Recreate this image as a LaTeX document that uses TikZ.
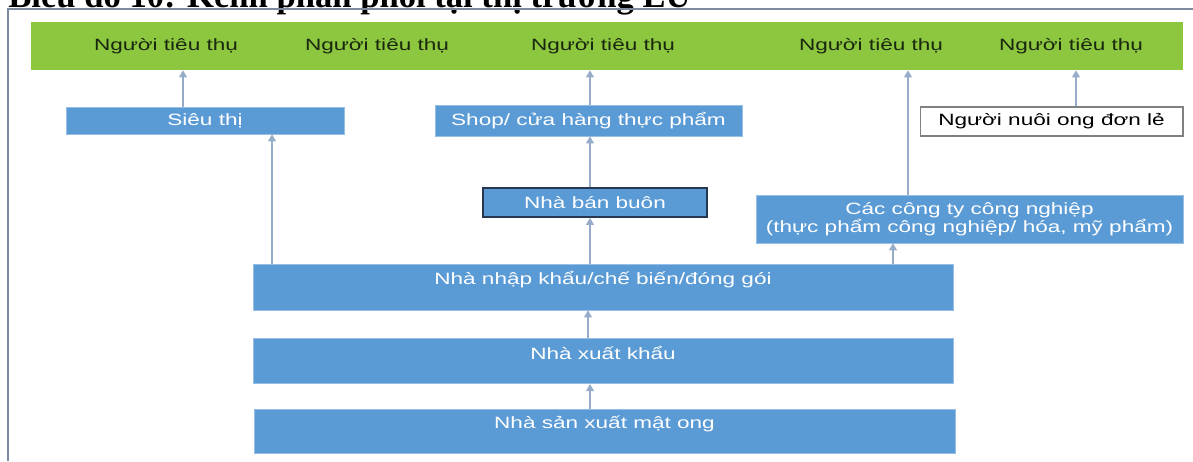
\documentclass[tikz,border=0pt]{standalone}
\usepackage{fontspec}
\setmainfont{Liberation Sans}[FakeStretch=1.38]
\newfontfamily\titlefont{Liberation Serif}
\usepackage{xcolor}
\usetikzlibrary{arrows.meta,positioning}

\definecolor{greenbar}{RGB}{141,198,63}
\definecolor{boxblue}{RGB}{91,155,213}
\definecolor{boxedge}{RGB}{150,190,230}
\definecolor{arrowblue}{RGB}{150,172,200}
\definecolor{consumertext}{RGB}{25,40,15}
\definecolor{framegray}{RGB}{125,138,160}
\definecolor{darkedge}{RGB}{40,55,80}

\newcommand{\diagfont}{\fontsize{9.3}{10.2}\selectfont}

\begin{document}
\begin{tikzpicture}[
    x=0.02cm, y=-0.02cm,
    >={Triangle[width=4.5pt,length=4pt]},
    box/.style={
        fill=boxblue,
        draw=boxedge,
        line width=0.4pt,
        text=white,
        align=center,
        font=\diagfont,
        inner sep=0pt
    },
    lowtext/.style={text depth=0.35cm},
    consumer/.style={font=\diagfont, text=consumertext, inner sep=0pt},
    edge/.style={->, draw=arrowblue, line width=0.7pt}
]
\useasboundingbox (0,0) rectangle (1193,461);
\clip (0,0) rectangle (1193,461);

\node[font=\titlefont\bfseries\fontsize{19.7}{22}\selectfont, anchor=base west, inner sep=0pt] (title)
  at (8,7.5) {Biểu đồ 10: Kênh phân phối tại thị trường EU};

\draw[framegray, line width=1pt] (8,461) -- (8,9) -- (1193,9);

\node[fill=greenbar, minimum width=23.04cm, minimum height=0.96cm, inner sep=0pt] (market) at (607,46) {};

\node[consumer] (user1) at (166,46) {Người tiêu thụ};
\node[consumer] (user2) at (377,46) {Người tiêu thụ};
\node[consumer] (user3) at (603,46) {Người tiêu thụ};
\node[consumer] (user4) at (871,46) {Người tiêu thụ};
\node[consumer] (user5) at (1071,46) {Người tiêu thụ};

\node[box, minimum width=5.56cm, minimum height=0.54cm] (market1) at (205,120.5) {Siêu thị};
\node[box, minimum width=6.14cm, minimum height=0.62cm] (shop) at (588.5,120.5) {Shop/ cửa hàng thực phẩm};
\node[draw=gray, line width=0.6pt, fill=white, font=\diagfont, inner sep=0pt,
      minimum width=5.26cm, minimum height=0.58cm] (beekeeper) at (1051.5,121.5) {Người nuôi ong đơn lẻ};

\node[box, draw=darkedge, line width=1pt, minimum width=4.48cm, minimum height=0.58cm] (wholesale) at (595,202.5) {Nhà bán buôn};
\node[box, minimum width=8.54cm, minimum height=0.96cm] (industry) at (969.5,219)
  {Các công ty công nghiệp\\(thực phẩm công nghiệp/ hóa, mỹ phẩm)};

\node[box, lowtext, minimum width=14cm, minimum height=0.92cm] (importer) at (603,287) {Nhà nhập khẩu/chế biến/đóng gói};
\node[box, lowtext, minimum width=14cm, minimum height=0.9cm, below=0.56cm of importer] (exporter) {Nhà xuất khẩu};
\node[box, lowtext, minimum width=14.02cm, minimum height=0.88cm, below=0.5cm of exporter, xshift=0.03cm] (producer) {Nhà sản xuất mật ong};

\draw[edge] (market1.north -| 183,0) -- (market.south -| 183,0);
\draw[edge] (shop.north -| 590,0) -- (market.south -| 590,0);
\draw[edge] (industry.north -| 908,0) -- (market.south -| 908,0);
\draw[edge] (beekeeper.north -| 1076,0) -- (market.south -| 1076,0);
\draw[edge] (importer.north -| 272,0) -- (market1.south -| 272,0);
\draw[edge] (wholesale.north -| 590,0) -- (shop.south -| 590,0);
\draw[edge] (importer.north -| 590,0) -- (wholesale.south -| 590,0);
\draw[edge] (importer.north -| 893,0) -- (industry.south -| 893,0);
\draw[edge] (exporter.north -| 588,0) -- (importer.south -| 588,0);
\draw[edge] (producer.north -| 590,0) -- (exporter.south -| 590,0);

\end{tikzpicture}
\end{document}
